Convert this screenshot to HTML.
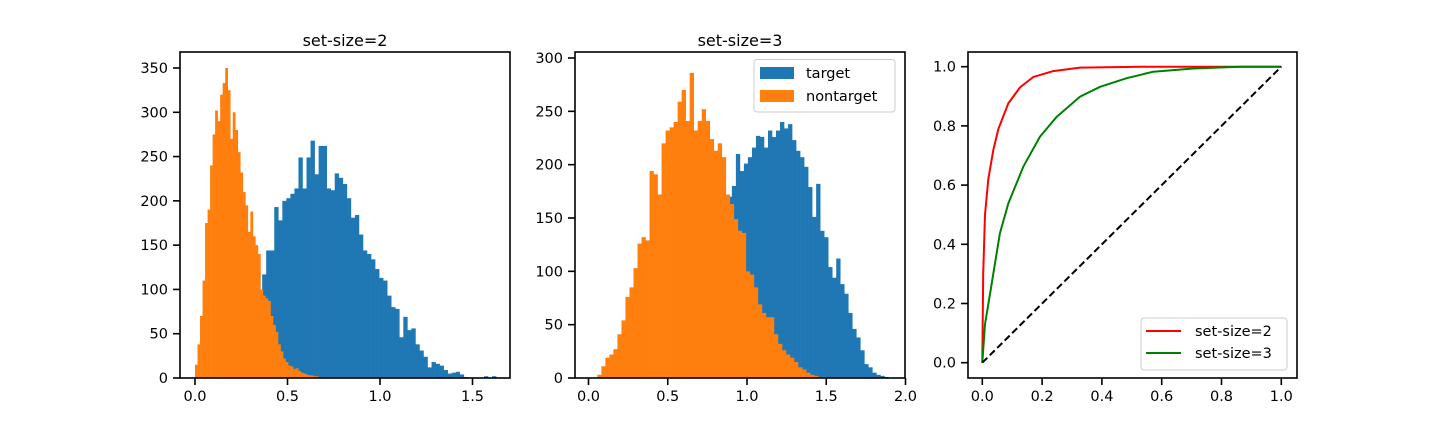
<!DOCTYPE html>
<html><head><meta charset="utf-8"><style>
html,body{margin:0;padding:0;background:#fff;}
svg{display:block;font-family:"DejaVu Sans","Liberation Sans",sans-serif;}
</style></head><body>
<svg id="fig" width="1440" height="432" viewBox="0 0 1440 432" xmlns="http://www.w3.org/2000/svg"></svg>
<script>
// ---- Panel 1 (set-size=2) data ----
const p1OrangeStart = 0.0;
const p1OrangeWidth = 0.0136;
const p1Orange = [15,38,70,110,175,190,240,275,302,290,320,333,350,325,270,300,280,255,232,210,195,165,188,160,150,140,100,93,90,87,70,60,52,38,30,22,18,14,13,10,11,8,6,5,4,3,3,2,2,1];
const p1BlueStart = 0.363;
const p1BlueWidth = 0.0218;
const p1Blue = [117,144,144,193,178,200,203,208,214,249,214,249,268,230,262,262,214,212,231,226,219,203,181,184,162,144,140,134,123,113,110,93,80,78,46,69,54,56,38,31,24,12,18,16,14,9,5,6,7,4,1,0,0,0,0,2,0,2];
const p1YTicks = [0,50,100,150,200,250,300,350];
const p1XTicks = [0.0,0.5,1.0,1.5];

// ---- Panel 2 (set-size=3) data ----
const p2OrangeStart = 0.056;
const p2OrangeWidth = 0.02532;
const p2Orange = [3,11,19,22,27,41,54,76,85,103,126,132,129,194,191,172,220,232,235,240,259,270,241,286,232,241,252,241,224,213,220,207,172,163,149,138,136,100,97,85,69,61,57,57,41,32,26,22,19,15,10,8,5,3,2,1,1];
const p2BlueStart = 0.626;
const p2BlueWidth = 0.02532;
const p2Blue = [20,35,50,65,85,100,120,140,155,165,170,180,210,194,201,207,216,227,226,216,232,226,232,240,234,238,223,213,207,198,179,151,182,138,132,104,94,112,88,79,61,46,38,26,13,10,5,3,2,1];
const p2YTicks = [0,50,100,150,200,250,300];
const p2XTicks = [0.0,0.5,1.0,1.5,2.0];

// ---- Panel 3 (ROC) data ----
const rocRedFpr = [0,0.003,0.009,0.02,0.037,0.054,0.087,0.126,0.17,0.237,0.327,0.53,1.0];
const rocRedTpr = [0,0.30,0.50,0.62,0.72,0.79,0.876,0.93,0.965,0.985,0.997,1.0,1.0];
const rocGreenFpr = [0,0.009,0.026,0.059,0.087,0.137,0.193,0.249,0.327,0.394,0.483,0.572,0.706,0.862,1.0];
const rocGreenTpr = [0,0.13,0.234,0.437,0.538,0.662,0.764,0.831,0.899,0.932,0.961,0.983,0.994,1.0,1.0];
const rocDiag = [0,1];
const p3Ticks = [0.0,0.2,0.4,0.6,0.8,1.0];

const NS = "http://www.w3.org/2000/svg";
const svg = document.getElementById('fig');
function mk(tag, attrs, parent){
  const e = document.createElementNS(NS, tag);
  for (const k in attrs) e.setAttribute(k, attrs[k]);
  (parent||svg).appendChild(e);
  return e;
}
function lin(d0,d1,r0,r1){ return v => r0 + (v-d0)*(r1-r0)/(d1-d0); }

const P = [
  {L:180,R:510,T:52,B:378, x:lin(0,1.5,195,472.5), y:lin(0,350,378,68)},
  {L:575,R:905,T:52,B:378, x:lin(0,2.0,588.5,905.5), y:lin(0,300,378,58)},
  {L:968,R:1297,T:52,B:378, x:lin(0,1,982.3,1281.3), y:lin(0,1,362.7,66.7)}
];

function drawBars(g, p, start, width, vals, color, name){
  for (let i=0;i<vals.length;i++){
    const x0 = p.x(start + i*width), x1 = p.x(start + (i+1)*width);
    const y = p.y(vals[i]);
    const r = mk('rect',{x:x0,y:y,width:Math.max(0,x1-x0)+0.3,height:Math.max(0,p.B-y),fill:color},g);
    
    
  }
}
function drawAxes(p, xt, yt, fmtX, fmtY, idx){
  const g = mk('g',{});
  
  
  mk('rect',{x:p.L,y:p.T,width:p.R-p.L,height:p.B-p.T,fill:'none',stroke:'#000','stroke-width':1.6},g);
  xt.forEach(v=>{
    const x=p.x(v);
    mk('line',{x1:x,x2:x,y1:p.B,y2:p.B+7,stroke:'#000','stroke-width':1.6},g);
    const t=mk('text',{x:x,y:p.B+23,'text-anchor':'middle','font-size':14.5,fill:'#000'},g);
    t.textContent=fmtX(v);
    
    
  });
  yt.forEach(v=>{
    const y=p.y(v);
    mk('line',{x1:p.L-7,x2:p.L,y1:y,y2:y,stroke:'#000','stroke-width':1.6},g);
    const t=mk('text',{x:p.L-12,y:y+5,'text-anchor':'end','font-size':14.5,fill:'#000'},g);
    t.textContent=fmtY(v);
    
    
  });
}
function title(p, txt){
  const t=mk('text',{x:(p.L+p.R)/2,y:46,'text-anchor':'middle','font-size':16,fill:'#000'});
  t.textContent=txt;
  
  
}
const f1 = v=>v.toFixed(1), f0 = v=>String(v);

const g1 = mk('g',{});


drawBars(g1,P[0],p1BlueStart,p1BlueWidth,p1Blue,'#1f77b4','target-bar');
drawBars(g1,P[0],p1OrangeStart,p1OrangeWidth,p1Orange,'#ff7f0e','nontarget-bar');
drawAxes(P[0],p1XTicks,p1YTicks,f1,f0,1);
title(P[0],'set-size=2');

const g2 = mk('g',{});


drawBars(g2,P[1],p2BlueStart,p2BlueWidth,p2Blue,'#1f77b4','target-bar');
drawBars(g2,P[1],p2OrangeStart,p2OrangeWidth,p2Orange,'#ff7f0e','nontarget-bar');
drawAxes(P[1],p2XTicks,p2YTicks,f1,f0,2);
title(P[1],'set-size=3');
const lg2 = mk('g',{});


mk('rect',{x:754,y:59.5,width:141,height:52.5,rx:3,fill:'#fff','fill-opacity':0.8,stroke:'#ccc','stroke-width':1},lg2);
mk('rect',{x:760,y:67,width:34,height:12,fill:'#1f77b4'},lg2);
mk('rect',{x:760,y:90,width:34,height:12,fill:'#ff7f0e'},lg2);
let t=mk('text',{x:806,y:78,'font-size':14.5,fill:'#000'},lg2); t.textContent='target';


t=mk('text',{x:806,y:101,'font-size':14.5,fill:'#000'},lg2); t.textContent='nontarget';



const p3 = P[2];
function pathFrom(xs, ys){ return xs.map((v,i)=>(i?'L':'M')+p3.x(v).toFixed(1)+','+p3.y(ys[i]).toFixed(1)).join(' '); }
let pl = mk('path',{d:pathFrom(rocRedFpr,rocRedTpr),fill:'none',stroke:'#ff0000','stroke-width':2,'stroke-linejoin':'round'});


pl = mk('path',{d:pathFrom(rocGreenFpr,rocGreenTpr),fill:'none',stroke:'#008000','stroke-width':2,'stroke-linejoin':'round'});


pl = mk('path',{d:pathFrom(rocDiag,rocDiag),fill:'none',stroke:'#000','stroke-width':2,'stroke-dasharray':'7,3.5'});


drawAxes(p3,p3Ticks,p3Ticks,f1,f1,3);
const lg3 = mk('g',{});


mk('rect',{x:1141,y:318,width:146,height:52,rx:3,fill:'#fff','fill-opacity':0.8,stroke:'#ccc','stroke-width':1},lg3);
mk('line',{x1:1146,x2:1181,y1:331,y2:331,stroke:'#ff0000','stroke-width':2},lg3);
mk('line',{x1:1146,x2:1181,y1:353,y2:353,stroke:'#008000','stroke-width':2},lg3);
t=mk('text',{x:1195,y:336,'font-size':14.5,fill:'#000'},lg3); t.textContent='set-size=2';


t=mk('text',{x:1195,y:358,'font-size':14.5,fill:'#000'},lg3); t.textContent='set-size=3';


</script>
</body></html>
